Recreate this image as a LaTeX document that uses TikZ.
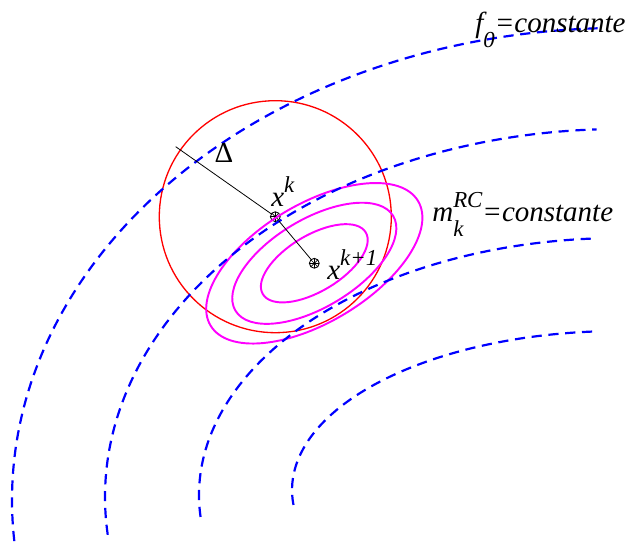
\documentclass[tikz,border=0pt]{standalone}
\usepackage{fontspec}
\setmainfont{Liberation Serif}
\usetikzlibrary{positioning}
\definecolor{modelmag}{RGB}{255,0,255}
\definecolor{fblue}{RGB}{0,0,255}
\definecolor{regred}{RGB}{255,0,0}
\newcommand{\up}[1]{\raisebox{8pt}{\fontsize{13}{15}\selectfont #1}}
\newcommand{\dn}[1]{\raisebox{-8.5pt}{\fontsize{13}{15}\selectfont #1}}

\begin{document}
\begin{tikzpicture}[x=0.02cm,y=0.02cm,
 levelf/.style={fblue,line width=1.25pt,dash pattern=on 5.8pt off 3.8pt},
 levelm/.style={modelmag,line width=1.1pt},
 region/.style={regred,line width=0.75pt},
 iter/.style={circle,draw,line width=0.5pt,inner sep=0pt,minimum size=5.6pt,
 path picture={\foreach \t in {0,45,90,135}
 \draw[line width=0.35pt,shift={(path picture bounding box.center)}] (\t:2.8pt) -- (\t+180:2.8pt);}},
 lbl/.style={inner sep=0pt,font=\fontsize{16.5}{20}\selectfont\itshape}]
\useasboundingbox (0,0) rectangle (632,543);
\node[iter] (xk) at (275.3,326.3) {};
\node[iter] (xk1) at (314.3,279.7) {};
\coordinate (rim) at (175.7,396.3);
\draw[region] (xk.center) circle[radius=116];
\foreach \a/\b in {121/59,92/44,60/28}
 \draw[levelm,rotate=31] (xk1.center) ellipse[x radius=\a,y radius=\b];
\foreach \cy/\a/\b/\s/\e in {43/608/472/185/92,46/515/368/185.9/92.6,48/421/257/184.9/93.1,53/328/159/185.4/94}
 \draw[levelf] (620,\cy) ++({\a*cos(\s)},{\b*sin(\s)}) arc[start angle=\s,end angle=\e,x radius=\a,y radius=\b];
\draw[line width=0.45pt] (xk) -- (rim);
\draw[line width=0.45pt] (xk) -- (xk1);
\node[font=\fontsize{16.5}{20}\selectfont,inner sep=0pt,anchor=base] (delta) at (224,380) {Δ};
\node[lbl,anchor=base west] (xklbl) at (271,336) {x\up{k}};
\node[lbl,anchor=base west] (xkilbl) at (327,263) {x\up{k+1}};
\node[lbl,anchor=base west] (flbl) at (475,510) {f\dn{0}=constante};
\node[lbl,anchor=base west] (mlbl) at (432,321) {m\ooalign{\up{RC}\cr\dn{k}\cr}=constante};
\end{tikzpicture}
\end{document}
